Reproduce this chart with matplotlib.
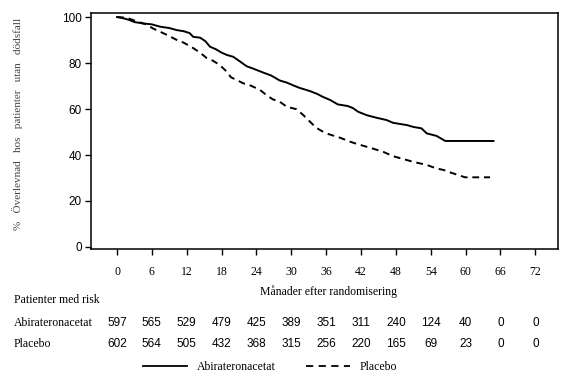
import matplotlib
matplotlib.use("Agg")
import matplotlib.pyplot as plt
from matplotlib.lines import Line2D
from matplotlib.transforms import blended_transform_factory

# Kaplan-Meier curves (months, % alive)
abi_t = [0, 1, 2, 3, 4.5, 6, 7.4, 9, 10.3, 11.5, 12.5, 13.1, 14.3, 15.2, 16, 17, 18, 18.9, 20, 21.2,
         22.3, 23.5, 25.2, 26.5, 28, 29.2, 30.4, 31.4, 33.2, 34.5, 35.4, 36.7, 38, 39.7, 40.6, 41.5,
         43, 44.5, 46.4, 47.5, 49.9, 51, 52.4, 53.3, 55, 56.5, 64.8]
abi_s = [100, 99.5, 98.8, 97.8, 97.2, 96.8, 95.8, 95.2, 94.3, 93.8, 93, 91.4, 91, 89.5, 87.1, 86, 84.5,
         83.5, 82.7, 80.6, 78.6, 77.5, 75.8, 74.6, 72.4, 71.5, 70.2, 69.2, 67.8, 66.5, 65.3, 63.9, 62,
         61.3, 60.4, 58.8, 57.3, 56.3, 55.2, 54, 53, 52.2, 51.6, 49.4, 48.3, 46.1, 46.1]

pla_t = [0, 1.5, 2.2, 3.5, 5, 6.2, 7.5, 8.6, 10.3, 11.5, 13.1, 14.3, 15.4, 16.5, 17.7, 18.9, 19.6,
         20.6, 21.7, 23, 24.6, 25.5, 26.8, 28, 29.2, 30.9, 32, 33.2, 34.3, 35.4, 36.5, 38.4, 40.1,
         41.3, 43.5, 45.8, 47.5, 49.9, 51, 53.3, 54.9, 56.2, 57.5, 59.9, 64.2]
pla_s = [100, 99.7, 99.2, 98, 96.8, 95, 93.5, 92.2, 90, 88.8, 86.5, 84.5, 82.2, 81, 79.1, 76.2, 73.8,
         72.6, 71.2, 70.2, 68.3, 66.5, 64.2, 63.2, 61, 59.9, 57.5, 54.5, 51.8, 50.2, 49, 47.5, 45.8,
         44.8, 43.2, 41.4, 39.5, 37.8, 37, 35.7, 34.2, 33.5, 32.3, 30.3, 30.3]

# Patients at risk table
risk_months = [0, 6, 12, 18, 24, 30, 36, 42, 48, 54, 60, 66, 72]
abi_risk = [597, 565, 529, 479, 425, 389, 351, 311, 240, 124, 40, 0, 0]
pla_risk = [602, 564, 505, 432, 368, 315, 256, 220, 165, 69, 23, 0, 0]

serif = ["Liberation Serif", "DejaVu Serif"]
sans = ["Liberation Sans", "DejaVu Sans"]

fig = plt.figure(figsize=(5.74, 3.85), dpi=100)
ax = fig.add_axes([91 / 574, 1 - 249 / 385, (558 - 91) / 574, (249 - 13) / 385])

ax.plot(abi_t, abi_s, color="black", lw=1.4, label="Abirateronacetat")
ax.plot(pla_t, pla_s, color="black", lw=1.4, linestyle=(0, (3.5, 2.5)), label="Placebo")

ax.set_xlim(-4.48, 75.9)
ax.set_ylim(-0.87, 101.74)
ax.set_yticks([0, 20, 40, 60, 80, 100])
ax.set_xticks(risk_months)
ax.set_xticklabels([str(m) for m in risk_months], family=serif, fontsize=8.5)
for lab in ax.get_yticklabels():
    lab.set_family(sans)
    lab.set_fontsize(8.5)
ax.tick_params(axis="both", direction="out", length=4.5, width=1, color="black")
ax.tick_params(axis="y", pad=2)
ax.tick_params(axis="x", pad=8)
for sp in ax.spines.values():
    sp.set_linewidth(1.1)

fig.text(18 / 574, 1 - 124 / 385, "%   Överlevnad   hos   patienter   utan   dödsfall",
         rotation=90, ha="center", va="center", family=serif, fontsize=8, color="#444444")

fig.text(329 / 574, 1 - 292 / 385, "Månader efter randomisering",
         ha="center", va="center", family=serif, fontsize=8.5)

# Risk table
tr = blended_transform_factory(ax.transData, fig.transFigure)
fig.text(14 / 574, 1 - 300 / 385, "Patienter med risk", ha="left", va="center",
         family=serif, fontsize=8.5)
for name, vals, ypix in [("Abirateronacetat", abi_risk, 323), ("Placebo", pla_risk, 344)]:
    fig.text(14 / 574, 1 - ypix / 385, name, ha="left", va="center", family=serif, fontsize=8.5)
    for m, v in zip(risk_months, vals):
        ax.text(m, 1 - ypix / 385, str(v), transform=tr, ha="center", va="center",
                family=sans, fontsize=8.5, clip_on=False)

handles = [Line2D([], [], color="black", lw=1.3),
           Line2D([], [], color="black", lw=1.3, linestyle=(0, (4, 3)))]
fig.legend(handles, ["Abirateronacetat", "Placebo"], loc="center left",
           bbox_to_anchor=(143 / 574, 1 - 367 / 385), ncol=2, frameon=False,
           prop={"family": serif, "size": 8.5}, handlelength=3.7, handletextpad=0.85,
           columnspacing=2.6, borderpad=0, borderaxespad=0)

fig.savefig("out.png", dpi=100)
